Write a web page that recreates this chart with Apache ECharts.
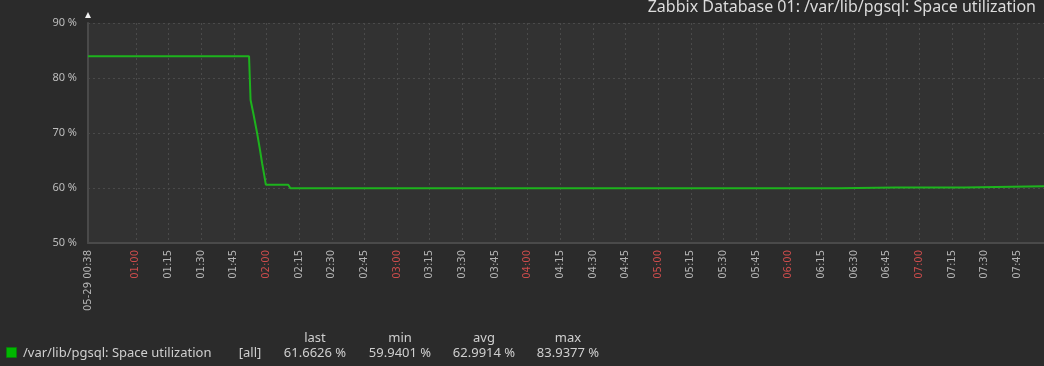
<!DOCTYPE html>
<html><head><meta charset="utf-8">
<script src="https://cdn.jsdelivr.net/npm/echarts@6/dist/echarts.min.js"></script>
<style>html,body{margin:0;padding:0;background:#2b2b2b}#c{width:1044px;height:366px}</style>
</head><body><div id="c"></div>
<script>
// time in minutes since 00:00 on 05-29
const times = [38, 55, 58, 58.7, 59.5, 62, 90, 112.0, 112.7, 114.0, 115.7, 117.0, 118.0, 119.0, 119.7, 125, 130.0, 131.0, 200, 300, 383.0, 383.5, 409.0, 409.5, 410.0, 440.5, 441.0, 486];
const values = [83.94, 83.94, 83.94, 84.15, 83.94, 83.94, 83.94, 83.94, 76.0, 73.5, 70.0, 67.0, 64.5, 62.3, 60.6, 60.6, 60.6, 59.95, 59.95, 59.95, 59.95, 60.1, 60.1, 60.25, 60.1, 60.1, 60.35, 60.35];
const tickMinutes = [38, 60, 75, 90, 105, 120, 135, 150, 165, 180, 195, 210, 225, 240, 255, 270, 285, 300, 315, 330, 345, 360, 375, 390, 405, 420, 435, 450, 465, 480];
const yTicks = [50, 60, 70, 80, 90];
const titleText = 'Zabbix Database 01: /var/lib/pgsql: Space utilization';
const seriesName = '/var/lib/pgsql: Space utilization';
const statHeaders = ['last', 'min', 'avg', 'max'];
const statValues = ['61.6626 %', '59.9401 %', '62.9914 %', '83.9377 %'];

const pad = n => (n < 10 ? '0' : '') + n;
const fmt = m => { m = Math.round(m); return pad(Math.floor(m / 60)) + ':' + pad(m % 60); };

const chart = echarts.init(document.getElementById('c'));
const font = 'Noto Sans';
const lf = '13px "Noto Sans"';
const graphics = [];
graphics.push({type:'rect', shape:{x:6.5, y:347.5, width:10, height:10}, style:{fill:'#00b800', stroke:'#0b7d0b', lineWidth:1}});
graphics.push({type:'text', style:{x:23, y:353, text:seriesName, fill:'#cfcfcf', font:lf, textVerticalAlign:'middle'}});
graphics.push({type:'text', style:{x:250, y:353, text:'[all]', fill:'#cfcfcf', font:lf, textAlign:'center', textVerticalAlign:'middle'}});
graphics.push({type:'polygon', shape:{points:[[88,12],[85,18],[91,18]]}, style:{fill:'#f0f0f0'}});
const colX = [315, 400, 484, 568];
statHeaders.forEach((h, i) => {
  graphics.push({type:'text', style:{x:colX[i], y:338, text:h, fill:'#cfcfcf', font:lf, textAlign:'center', textVerticalAlign:'middle'}});
  graphics.push({type:'text', style:{x:colX[i], y:353, text:statValues[i], fill:'#cfcfcf', font:lf, textAlign:'center', textVerticalAlign:'middle'}});
});

chart.setOption({
  backgroundColor: '#2b2b2b',
  animation: false,
  textStyle: {fontFamily: font},
  title: {text: titleText, right: 3, top: -6, textStyle: {color: '#dcdcdc', fontSize: 16, fontWeight: 'normal', fontFamily: font}},
  grid: {left: 88, top: 23, right: -19, height: 220, show: true, backgroundColor: '#323232', borderWidth: 0, containLabel: false, outerBoundsMode: 'none'},
  xAxis: {
    type: 'value', min: 38, max: 486,
    axisLine: {show: true, lineStyle: {color: '#4a4a4a', width: 2}},
    axisTick: {show: false, customValues: tickMinutes},
    axisLabel: {
      customValues: tickMinutes, rotate: 90, fontSize: 10, margin: 7, fontFamily: 'DejaVu Sans',
      formatter: v => (v === 38 ? '05-29 ' + fmt(v) : fmt(v)),
      color: v => (v === 38 || Math.round(v) % 60 === 0 ? '#cc4c4c' : '#b4b4b4')
    },
    splitLine: {show: true, lineStyle: {color: '#4a4a4a', type: [2, 3], width: 1}}
  },
  yAxis: {
    type: 'value', min: 50, max: 90, interval: 10,
    axisLine: {show: true, lineStyle: {color: '#4a4a4a', width: 2}},
    axisTick: {show: false},
    axisLabel: {formatter: v => v + ' %', color: '#bdbdbd', fontSize: 11, margin: 11, fontFamily: font},
    splitLine: {show: true, lineStyle: {color: '#4a4a4a', type: [2, 3], width: 1}}
  },
  series: [{
    type: 'line', name: seriesName, showSymbol: false,
    data: times.map((t, i) => [t, values[i]]),
    lineStyle: {color: '#1db31d', width: 2},
    itemStyle: {color: '#1db31d'}
  }],
  graphic: graphics
});
</script></body></html>
